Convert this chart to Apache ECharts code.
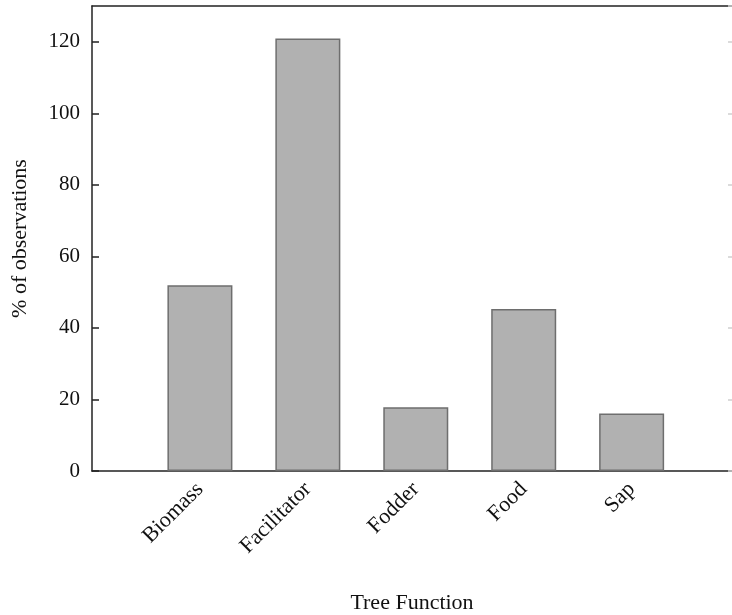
<!DOCTYPE html>
<html>
<head>
<meta charset="utf-8">
<script src="https://cdn.jsdelivr.net/npm/echarts@6/dist/echarts.min.js"></script>
<style>
  html, body { margin: 0; padding: 0; background: #fff; }
  #chart { width: 732px; height: 615px; }
</style>
</head>
<body>
<div id="chart"></div>
<script>
// Tree function categories and share of observations (%)
const categories = ['Biomass', 'Facilitator', 'Fodder', 'Food', 'Sap'];
const observations = [51.9, 120.9, 17.8, 45.3, 16.1];
const yTicks = [0, 20, 40, 60, 80, 100, 120];

const FONT = "'Liberation Serif', 'Times New Roman', serif";
const chart = echarts.init(document.getElementById('chart'));

chart.setOption({
  animation: false,
  backgroundColor: '#ffffff',
  grid: { left: 92, top: 6, right: 0, bottom: 144, containLabel: false, outerBoundsMode: 'none' },
  xAxis: [
    {
      type: 'value',
      min: -1,
      max: 4.93,
      interval: 1,
      name: 'Tree Function',
      nameLocation: 'middle',
      nameGap: 121,
      nameTextStyle: { fontFamily: FONT, fontSize: 22, color: '#111' },
      axisLine: { show: true, onZero: false, lineStyle: { color: '#222', width: 1.5 } },
      axisTick: { show: false },
      splitLine: { show: false },
      axisLabel: {
        rotate: 45,
        margin: 15,
        fontFamily: FONT,
        fontSize: 22,
        color: '#111',
        showMinLabel: false,
        showMaxLabel: false,
        formatter: v => (Number.isInteger(v) && categories[v] !== undefined) ? categories[v] : ''
      }
    },
    {
      // top edge of the frame
      type: 'value',
      position: 'top',
      min: 0,
      max: 1,
      axisLine: { show: true, onZero: false, lineStyle: { color: '#222', width: 1.5 } },
      axisTick: { show: false },
      axisLabel: { show: false },
      splitLine: { show: false }
    }
  ],
  yAxis: [
    {
      type: 'value',
      min: 0,
      max: 130,
      interval: 20,
      name: '% of observations',
      nameLocation: 'middle',
      nameGap: 61,
      nameRotate: 90,
      nameTextStyle: { fontFamily: FONT, fontSize: 22, color: '#111' },
      axisLine: { show: true, onZero: false, lineStyle: { color: '#222', width: 1.5 } },
      axisTick: { show: true, inside: true, length: 7, lineStyle: { color: '#222', width: 1.5 } },
      splitLine: { show: false },
      axisLabel: {
        margin: 12,
        fontFamily: FONT,
        fontSize: 21,
        color: '#111',
        showMaxLabel: false,
        formatter: v => yTicks.includes(v) ? String(v) : ''
      }
    },
    {
      // faint ticks along the right edge
      type: 'value',
      position: 'right',
      min: 0,
      max: 130,
      interval: 20,
      axisLine: { show: false, onZero: false },
      axisTick: { show: true, inside: true, length: 4, lineStyle: { color: '#cfcfcf', width: 1.5 } },
      axisLabel: { show: false },
      splitLine: { show: false }
    }
  ],
  series: [
    {
      type: 'bar',
      xAxisIndex: 0,
      yAxisIndex: 0,
      barWidth: 65,
      data: observations.map((v, i) => [i, v]),
      itemStyle: { color: '#b1b1b1', borderColor: '#6e6e6e', borderWidth: 1.5 }
    }
  ]
});
</script>
</body>
</html>
